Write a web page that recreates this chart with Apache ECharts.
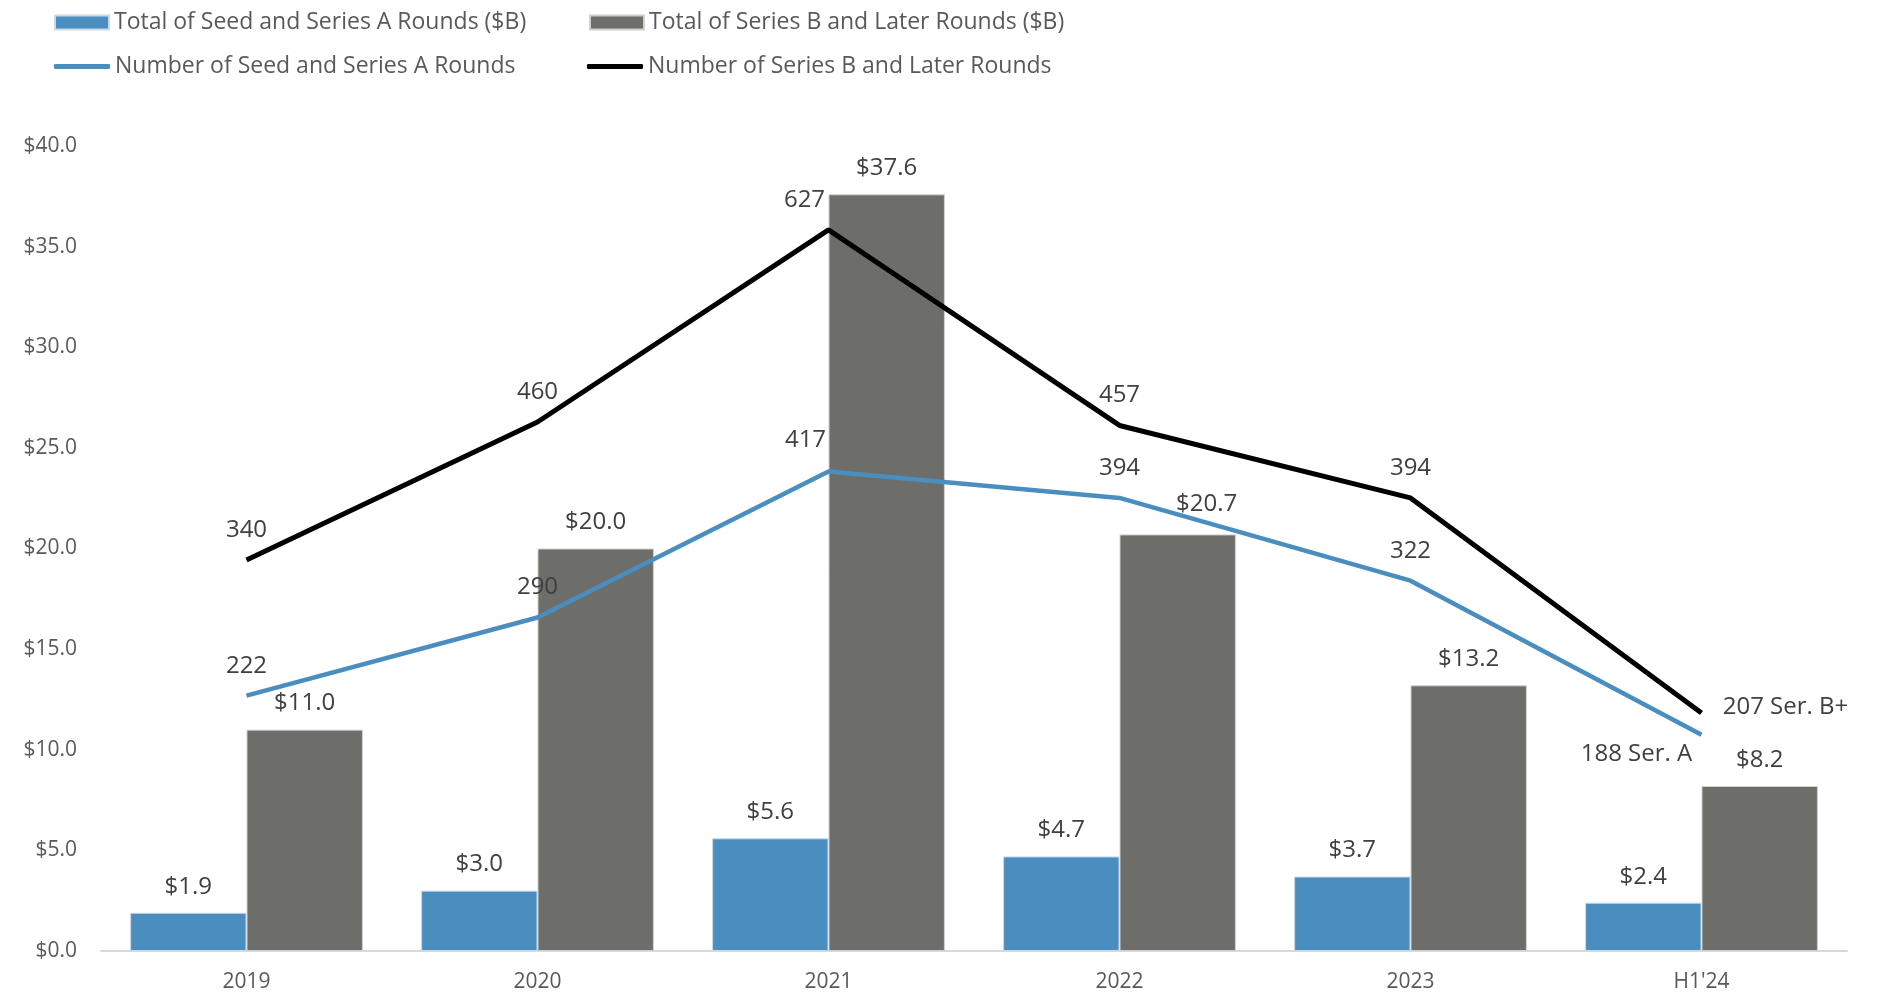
<!DOCTYPE html>
<html><head><meta charset="utf-8">
<script src="https://cdn.jsdelivr.net/npm/echarts@6/dist/echarts.min.js"></script>
<style>html,body{margin:0;padding:0;background:#fff}#c{width:1881px;height:995px}</style>
</head><body><div id="c"></div>
<script>
const categories = ['2019', '2020', '2021', '2022', '2023', "H1'24"];
const seedTotal = [1.9, 3.0, 5.6, 4.7, 3.7, 2.4];
const laterTotal = [11.0, 20.0, 37.6, 20.7, 13.2, 8.2];
const seedCount = [222, 290, 417, 394, 322, 188];
const laterCount = [340, 460, 627, 457, 394, 207];
const seedCountLabels = ['222', '290', '417', '394', '322', '188 Ser. A'];
const laterCountLabels = ['340', '460', '627', '457', '394', '207 Ser. B+'];
const seriesNames = ['Total of Seed and Series A Rounds ($B)', 'Total of Series B and Later Rounds ($B)', 'Number of Seed and Series A Rounds', 'Number of Series B and Later Rounds'];

const FONT = 'Open Sans';
const BLUE = '#4A8EC0', GREY = '#6D6E69';

// label offsets (style, kept separate from data)
const seedLineOffsets = [[0,-30],[0,-30],[-23,-31],[0,-30],[0,-30],[-65,19]];
const laterLineOffsets = [[0,-30],[0,-30],[-24,-30],[0,-30],[0,-30],[84,-6]];
const laterBarOffsets = [[0,0],[0,0],[0,0],[29,-4],[0,0],[0,0]];

const money = v => '$' + v.toFixed(1);
const labelText = {fontFamily: FONT, fontSize: 24, color: '#404040'};

const chart = echarts.init(document.getElementById('c'), null, {renderer: 'canvas'});
const legendBase = {orient: 'horizontal', padding: 0, textStyle: {fontFamily: FONT, fontSize: 23, color: '#595959'}, itemGap: 0, selectedMode: false};
chart.setOption({
  animation: false,
  backgroundColor: '#fff',
  legend: [
    Object.assign({}, legendBase, {data: [seriesNames[0]], left: 54, top: 11, itemWidth: 54, itemHeight: 14, icon: 'rect'}),
    Object.assign({}, legendBase, {data: [seriesNames[1]], left: 589, top: 11, itemWidth: 54, itemHeight: 14, icon: 'rect'}),
    Object.assign({}, legendBase, {data: [seriesNames[2]], left: 54, top: 55, itemWidth: 56, itemHeight: 5, icon: 'roundRect'}),
    Object.assign({}, legendBase, {data: [seriesNames[3]], left: 587, top: 55, itemWidth: 56, itemHeight: 5, icon: 'roundRect'})
  ],
  grid: {left: 101, right: 34, top: 146, bottom: 44, containLabel: false},
  xAxis: {
    type: 'category', data: categories,
    axisLine: {lineStyle: {color: '#D9D9D9', width: 2}},
    axisTick: {show: false},
    axisLabel: {fontFamily: FONT, fontSize: 21, color: '#595959', margin: 21}
  },
  yAxis: [
    {type: 'value', min: 0, max: 40, interval: 5,
     axisLine: {show: false}, axisTick: {show: false}, splitLine: {show: false},
     axisLabel: {fontFamily: FONT, fontSize: 21, color: '#595959', margin: 24, padding: [5, 0, 0, 0], formatter: v => money(v)}},
    {type: 'value', min: 0, max: 700, show: false, splitLine: {show: false}}
  ],
  series: [
    {name: seriesNames[0], type: 'bar', yAxisIndex: 0, barGap: '0%', barCategoryGap: '20%',
     itemStyle: {color: BLUE, borderColor: '#C9D9E6', borderWidth: 1},
     label: Object.assign({show: true, position: 'top', distance: 14, formatter: p => money(p.value)}, labelText),
     data: seedTotal.slice()},
    {name: seriesNames[1], type: 'bar', yAxisIndex: 0, barGap: '0%', barCategoryGap: '20%',
     itemStyle: {color: GREY, borderColor: '#D0D0CE', borderWidth: 1},
     label: Object.assign({show: true, position: 'top', distance: 14, formatter: p => money(p.value)}, labelText),
     data: laterTotal.map((v, i) => ({value: v, label: {offset: laterBarOffsets[i]}}))},
    {name: seriesNames[2], type: 'line', yAxisIndex: 1, symbol: 'circle', symbolSize: 0.1,
     lineStyle: {color: BLUE, width: 4.5}, itemStyle: {color: BLUE},
     label: Object.assign({show: true, position: 'inside'}, labelText),
     data: seedCount.map((v, i) => ({value: v, label: {offset: seedLineOffsets[i], formatter: seedCountLabels[i]}}))},
    {name: seriesNames[3], type: 'line', yAxisIndex: 1, symbol: 'circle', symbolSize: 0.1,
     lineStyle: {color: '#000', width: 5}, itemStyle: {color: '#000'},
     label: Object.assign({show: true, position: 'inside'}, labelText),
     data: laterCount.map((v, i) => ({value: v, label: {offset: laterLineOffsets[i], formatter: laterCountLabels[i]}}))}
  ]
});
</script></body></html>
